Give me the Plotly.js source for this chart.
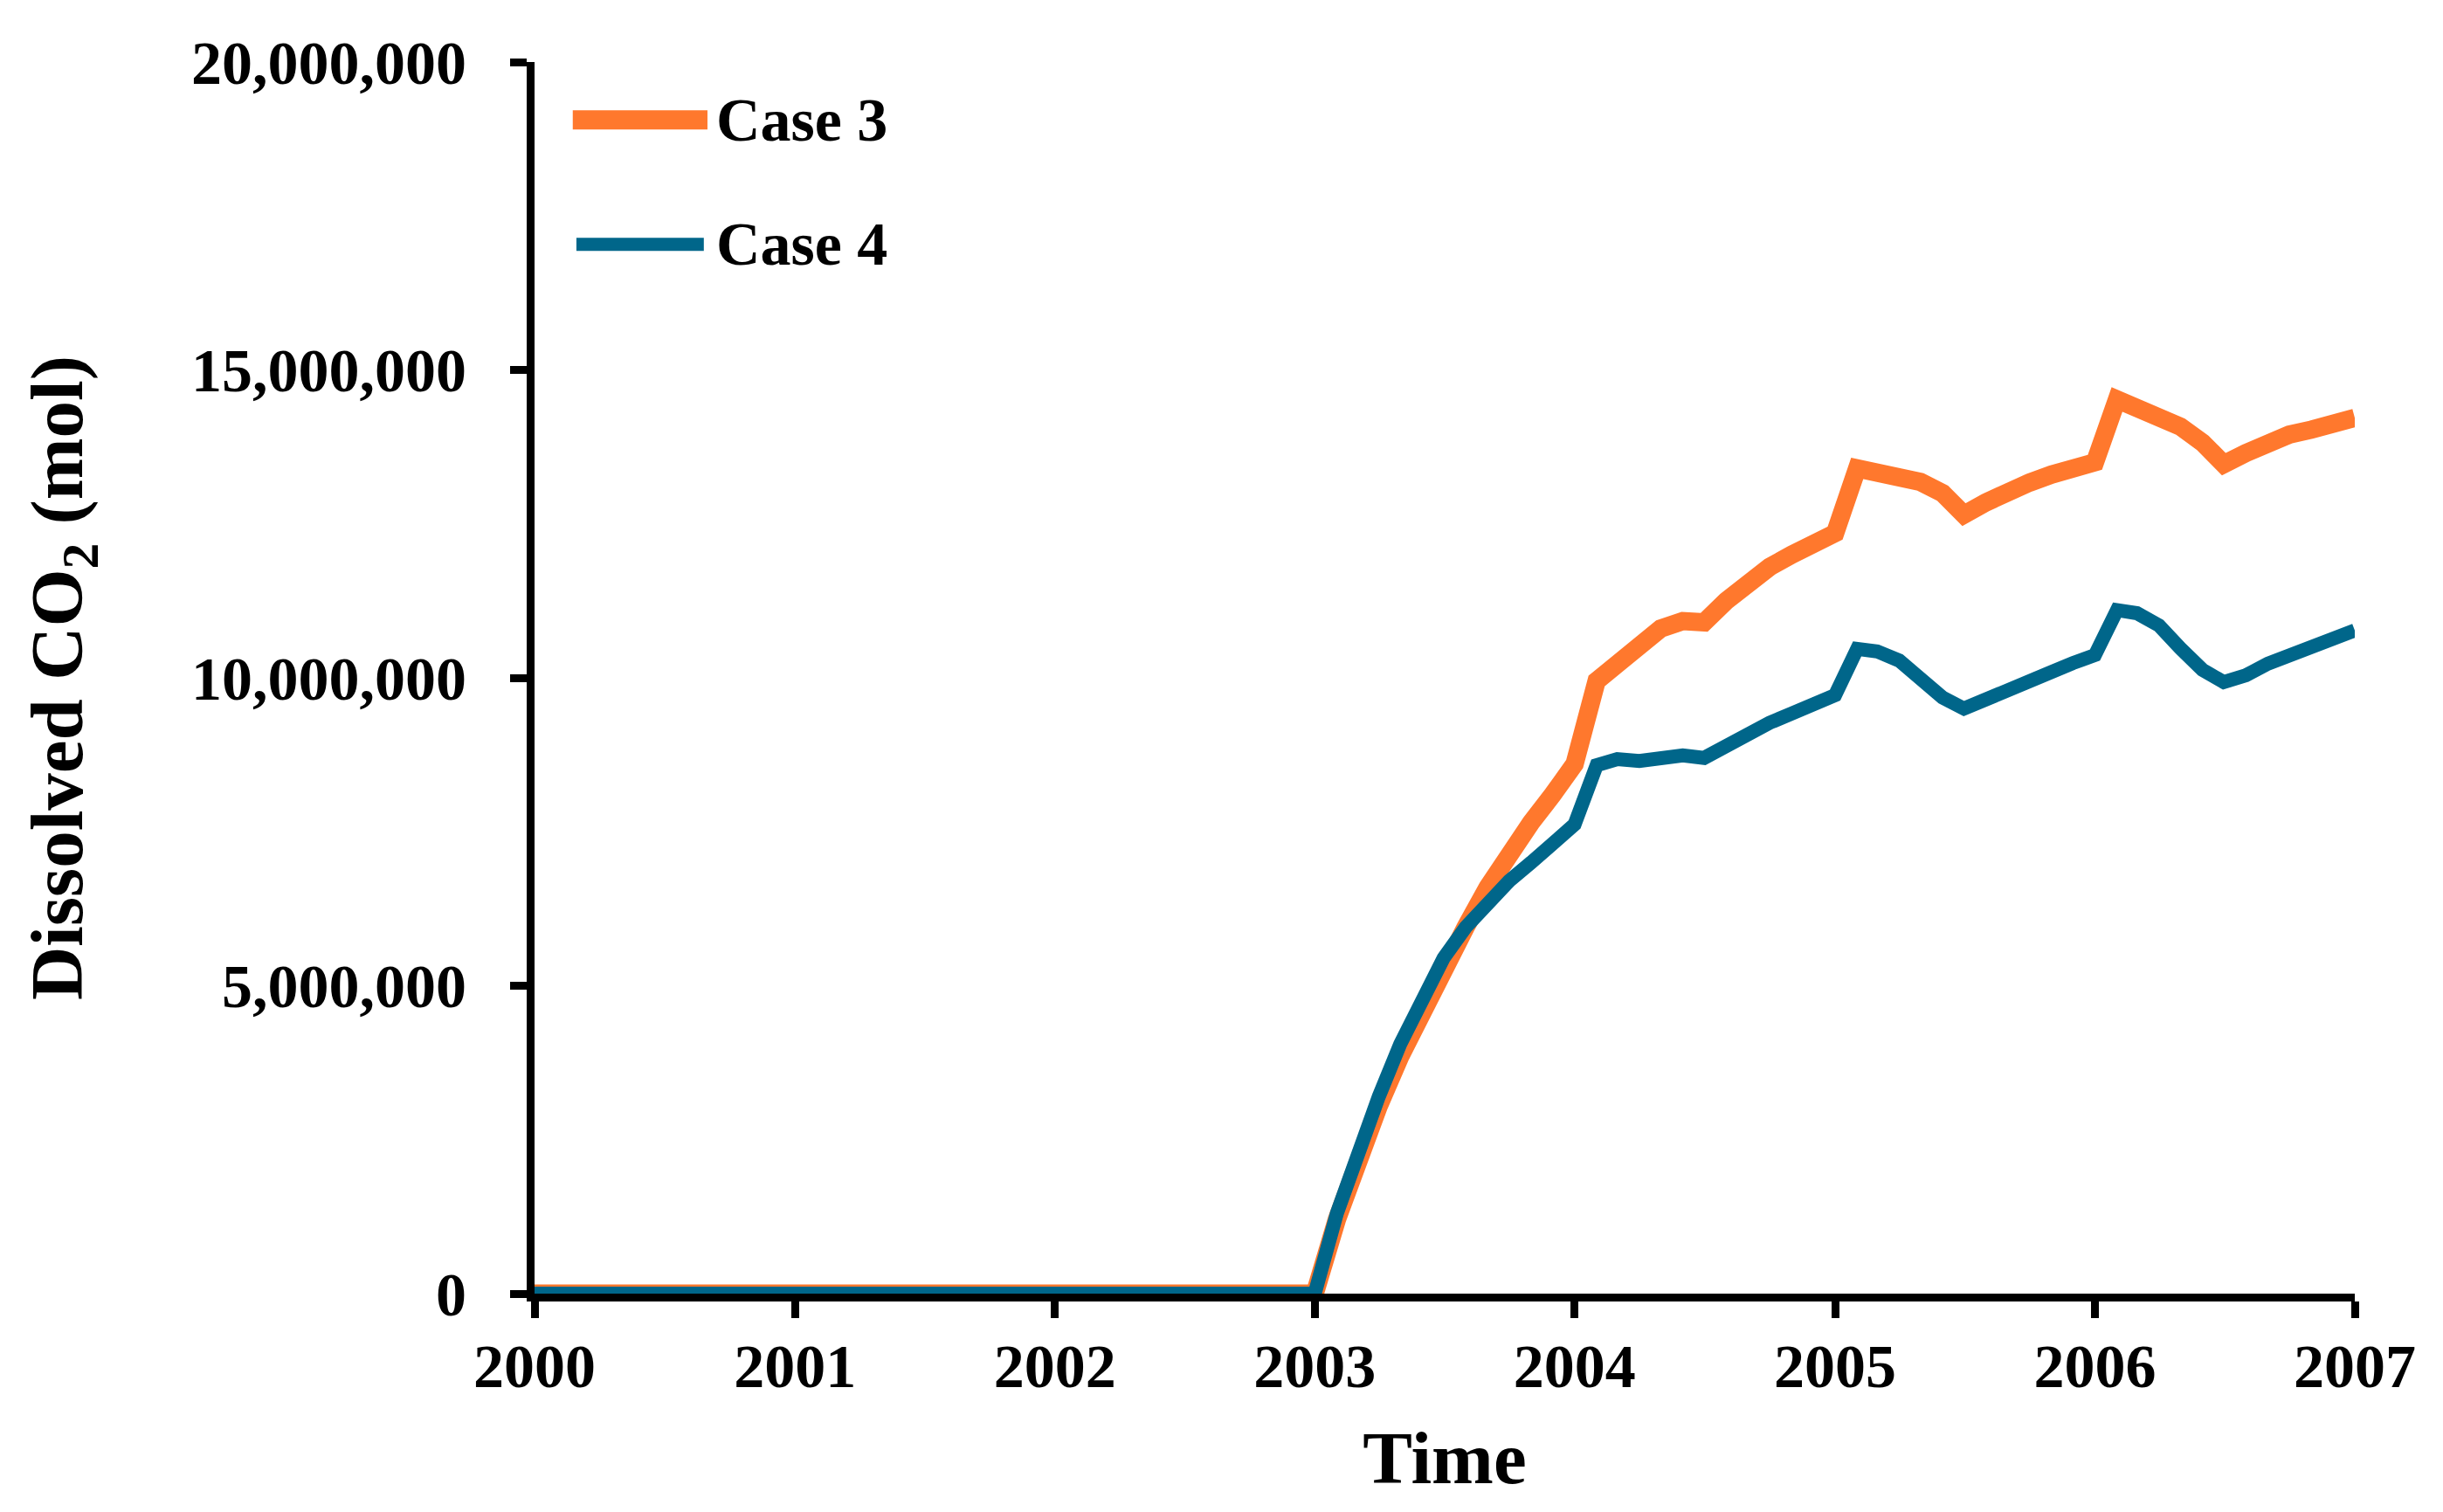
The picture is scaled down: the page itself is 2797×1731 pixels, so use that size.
<!DOCTYPE html>
<html>
<head>
<meta charset="utf-8">
<script src="https://cdn.plot.ly/plotly-3.0.1.min.js"></script>
<style>html,body{margin:0;padding:0;background:#fff;}#chart{width:2797px;height:1731px;}</style>
</head>
<body>
<div id="chart"></div>
<script>
// ---- data ----
const times = [
  '2000-01-01','2003-01-01','2003-02-01','2003-03-01','2003-04-01','2003-05-01','2003-06-01','2003-07-01',
  '2003-08-01','2003-09-01','2003-10-01','2003-11-01','2003-12-01',
  '2004-01-01','2004-02-01','2004-03-01','2004-04-01','2004-05-01','2004-06-01','2004-07-01',
  '2004-08-01','2004-09-01','2004-10-01','2004-11-01','2004-12-01',
  '2005-01-01','2005-02-01','2005-03-01','2005-04-01','2005-05-01','2005-06-01','2005-07-01',
  '2005-08-01','2005-09-01','2005-10-01','2005-11-01','2005-12-01',
  '2006-01-01','2006-02-01','2006-03-01','2006-04-01','2006-05-01','2006-06-01','2006-07-01',
  '2006-08-01','2006-09-01','2006-10-01','2006-11-01','2006-12-01',
  '2007-01-01'
];
const case3 = [
  0, 0, 1.20e6, 2.15e6, 3.05e6, 3.85e6, 4.60e6, 5.35e6,
  5.95e6, 6.60e6, 7.15e6, 7.65e6, 8.10e6,
  8.60e6, 9.95e6, 10.25e6, 10.55e6, 10.80e6, 10.92e6, 10.90e6,
  11.25e6, 11.55e6, 11.80e6, 12.00e6, 12.20e6,
  12.35e6, 13.40e6, 13.35e6, 13.27e6, 13.18e6, 13.00e6, 12.65e6,
  12.85e6, 13.05e6, 13.17e6, 13.30e6, 13.40e6,
  13.50e6, 14.52e6, 14.38e6, 14.22e6, 14.08e6, 13.82e6, 13.47e6,
  13.65e6, 13.83e6, 13.95e6, 14.03e6, 14.10e6,
  14.22e6
];
const case4 = [
  0, 0, 1.30e6, 2.25e6, 3.20e6, 4.05e6, 4.80e6, 5.45e6,
  5.95e6, 6.35e6, 6.70e6, 7.00e6, 7.30e6,
  7.62e6, 8.58e6, 8.68e6, 8.65e6, 8.70e6, 8.74e6, 8.70e6,
  8.90e6, 9.10e6, 9.27e6, 9.42e6, 9.57e6,
  9.72e6, 10.47e6, 10.43e6, 10.28e6, 9.98e6, 9.68e6, 9.50e6,
  9.66e6, 9.82e6, 9.96e6, 10.10e6, 10.24e6,
  10.37e6, 11.10e6, 11.05e6, 10.85e6, 10.48e6, 10.13e6, 9.93e6,
  10.04e6, 10.23e6, 10.35e6, 10.47e6, 10.62e6,
  10.77e6
];
const seriesNames = ['Case 3', 'Case 4'];
const xTickVals = ['2000-01-01','2001-01-01','2002-01-01','2003-01-01','2004-01-01','2005-01-01','2006-01-01','2007-01-01'];
const xTickText = ['2000','2001','2002','2003','2004','2005','2006','2007'];
const yTickVals = [0, 5000000, 10000000, 15000000, 20000000];
const yTickText = ['0','5,000,000','10,000,000','15,000,000','20,000,000'];

// ---- style ----
const FONT = 'Liberation Serif, Times New Roman, serif';
const ORANGE = '#FF782D';
const BLUE = '#00668A';

const traces = [
  {x: times, y: case3, name: seriesNames[0], type: 'scatter', mode: 'lines',
   line: {color: ORANGE, width: 21}},
  {x: times, y: case4, name: seriesNames[1], type: 'scatter', mode: 'lines',
   line: {color: BLUE, width: 16}}
];

const axisFont = {family: FONT, size: 70, weight: 'bold', color: '#000'};
const titleFont = {family: FONT, size: 85, weight: 'bold', color: '#000'};

const layout = {
  width: 2797, height: 1731,
  margin: {l: 612, r: 101, t: 71, b: 250},
  paper_bgcolor: '#fff', plot_bgcolor: '#fff',
  showlegend: false,
  font: {family: FONT, color: '#000', size: 70, weight: 'bold'},
  xaxis: {
    type: 'date',
    range: ['2000-01-01', '2007-01-01'],
    tickmode: 'array', tickvals: xTickVals, ticktext: xTickText,
    ticks: 'outside', ticklen: 19, tickwidth: 9, tickcolor: '#000',
    showline: true, linecolor: '#000', linewidth: 9,
    showgrid: false, zeroline: false,
    layer: 'below traces',
    ticklabelstandoff: -5,
    tickfont: axisFont,
    title: {text: 'Time', font: titleFont, standoff: 40}
  },
  yaxis: {
    range: [0, 20000000],
    tickmode: 'array', tickvals: yTickVals, ticktext: yTickText,
    ticks: 'outside', ticklen: 19, tickwidth: 9, tickcolor: '#000',
    showline: true, linecolor: '#000', linewidth: 9,
    showgrid: false, zeroline: false,
    layer: 'below traces',
    ticklabelstandoff: 36,
    tickfont: axisFont,
    title: {text: 'Dissolved CO<sub>2</sub> (mol)', font: titleFont, standoff: 100}
  },
  shapes: [
    {type: 'line', xref: 'paper', yref: 'paper', x0: 0.021, x1: 0.095, y0: 0.953, y1: 0.953,
     line: {color: ORANGE, width: 22}},
    {type: 'line', xref: 'paper', yref: 'paper', x0: 0.023, x1: 0.093, y0: 0.852, y1: 0.852,
     line: {color: BLUE, width: 15}}
  ],
  annotations: [
    {xref: 'paper', yref: 'paper', x: 0.099, y: 0.953, xanchor: 'left', yanchor: 'middle',
     text: seriesNames[0], showarrow: false, font: axisFont},
    {xref: 'paper', yref: 'paper', x: 0.099, y: 0.852, xanchor: 'left', yanchor: 'middle',
     text: seriesNames[1], showarrow: false, font: axisFont}
  ]
};

Plotly.newPlot('chart', traces, layout, {displayModeBar: false, staticPlot: true});
</script>
</body>
</html>
